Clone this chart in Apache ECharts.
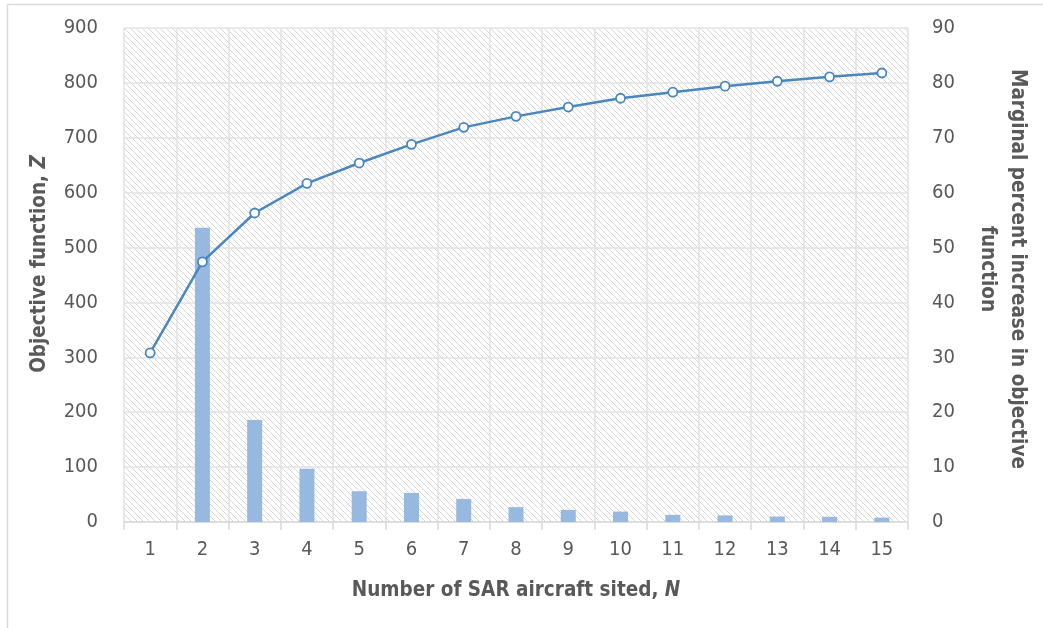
<!DOCTYPE html>
<html>
<head>
<meta charset="utf-8">
<script src="https://cdn.jsdelivr.net/npm/echarts@6/dist/echarts.min.js"></script>
<style>
  html, body { margin: 0; padding: 0; background: #fff; }
  #chart { width: 1043px; height: 628px; }
</style>
</head>
<body>
<div id="chart"></div>
<script>
// Number of SAR aircraft sited
const categories = ['1','2','3','4','5','6','7','8','9','10','11','12','13','14','15'];
// Objective function Z (left axis)
const objectiveValues = [308, 474, 563, 617, 654, 688, 719, 739, 756, 772, 783, 794, 803, 811, 818];
// Marginal percent increase in objective function (right axis)
const marginalValues = [null, 53.6, 18.6, 9.7, 5.6, 5.3, 4.2, 2.7, 2.2, 1.9, 1.3, 1.2, 1.0, 0.95, 0.8];

const FONT = '"Liberation Sans Narrow", "DejaVu Sans Condensed", "Roboto", sans-serif';
const TEXT = '#595959';
const GRID_LINE = '#e2e2e2';
const TITLE_SIZE = 20.5;

// Diagonal hatch tile for the plot background
function hatchTile() {
  const s = 6;
  const c = document.createElement('canvas');
  c.width = s; c.height = s;
  const g = c.getContext('2d');
  g.fillStyle = '#ffffff';
  g.fillRect(0, 0, s, s);
  g.strokeStyle = '#d6d6d6';
  g.lineWidth = 1;
  g.beginPath();
  g.moveTo(-1, -1); g.lineTo(s + 1, s + 1);
  g.moveTo(-1, s - 1); g.lineTo(1, s + 1);
  g.moveTo(s - 1, -1); g.lineTo(s + 1, 1);
  g.stroke();
  return c;
}

const titleStyle = {
  fontFamily: FONT, fontSize: TITLE_SIZE, fontWeight: 'bold', color: TEXT
};

const chart = echarts.init(document.getElementById('chart'), null, { renderer: 'canvas' });

chart.setOption({
  animation: false,
  backgroundColor: '#ffffff',
  textStyle: { fontFamily: FONT },
  grid: {
    left: 124, right: 135, top: 28, bottom: 106,
    show: true,
    borderWidth: 0,
    backgroundColor: { image: hatchTile(), repeat: 'repeat' }
  },
  xAxis: {
    type: 'category',
    data: categories,
    boundaryGap: true,
    name: 'Number of SAR aircraft sited, {i|N}',
    nameLocation: 'middle',
    nameGap: 58,
    nameTextStyle: Object.assign({}, titleStyle, {
      rich: { i: Object.assign({}, titleStyle, { fontStyle: 'italic' }) }
    }),
    axisLine: { lineStyle: { color: '#d9d9d9', width: 1.5 } },
    axisTick: { show: true, length: 8, lineStyle: { color: '#d9d9d9', width: 1.5 } },
    axisLabel: { fontFamily: FONT, fontSize: 20, color: TEXT, margin: 18 },
    splitLine: { show: true, lineStyle: { color: GRID_LINE, width: 1.5 } }
  },
  yAxis: [
    {
      type: 'value',
      min: 0, max: 900, interval: 100,
      name: 'Objective function, {i|Z}',
      nameLocation: 'middle',
      nameGap: 74,
      nameTextStyle: Object.assign({}, titleStyle, {
        padding: [0, 0, 0, 22],
        rich: { i: Object.assign({}, titleStyle, { fontStyle: 'italic' }) }
      }),
      axisLine: { show: false },
      axisTick: { show: false },
      axisLabel: { fontFamily: FONT, fontSize: 20, color: TEXT, margin: 26 },
      splitLine: { show: true, lineStyle: { color: GRID_LINE, width: 1.5 } }
    },
    {
      type: 'value',
      min: 0, max: 90, interval: 10,
      position: 'right',
      name: 'Marginal percent increase in objective\nfunction',
      nameLocation: 'middle',
      nameRotate: -90,
      nameGap: 64,
      nameTextStyle: Object.assign({}, titleStyle, {
        lineHeight: 30, align: 'center', padding: [0, 12, 0, 0]
      }),
      axisLine: { show: false },
      axisTick: { show: false },
      axisLabel: { fontFamily: FONT, fontSize: 20, color: TEXT, margin: 24 },
      splitLine: { show: false }
    }
  ],
  series: [
    {
      name: 'Marginal percent increase',
      type: 'bar',
      yAxisIndex: 1,
      data: marginalValues,
      barWidth: 15,
      itemStyle: { color: '#97b8df' }
    },
    {
      name: 'Objective function',
      type: 'line',
      yAxisIndex: 0,
      data: objectiveValues,
      symbol: 'circle',
      symbolSize: 9,
      lineStyle: { color: '#4a86c0', width: 2.5 },
      itemStyle: { color: '#ffffff', borderColor: '#4a86c0', borderWidth: 1.8 },
      z: 5
    }
  ],
  graphic: [
    // thin frame along the top and left edges
    { type: 'line', shape: { x1: 7.5, y1: 4.5, x2: 1043, y2: 4.5 }, style: { stroke: '#d9d9d9', lineWidth: 1.5 }, silent: true },
    { type: 'line', shape: { x1: 7.5, y1: 4.5, x2: 7.5, y2: 628 }, style: { stroke: '#d9d9d9', lineWidth: 1.5 }, silent: true }
  ]
});
</script>
</body>
</html>
